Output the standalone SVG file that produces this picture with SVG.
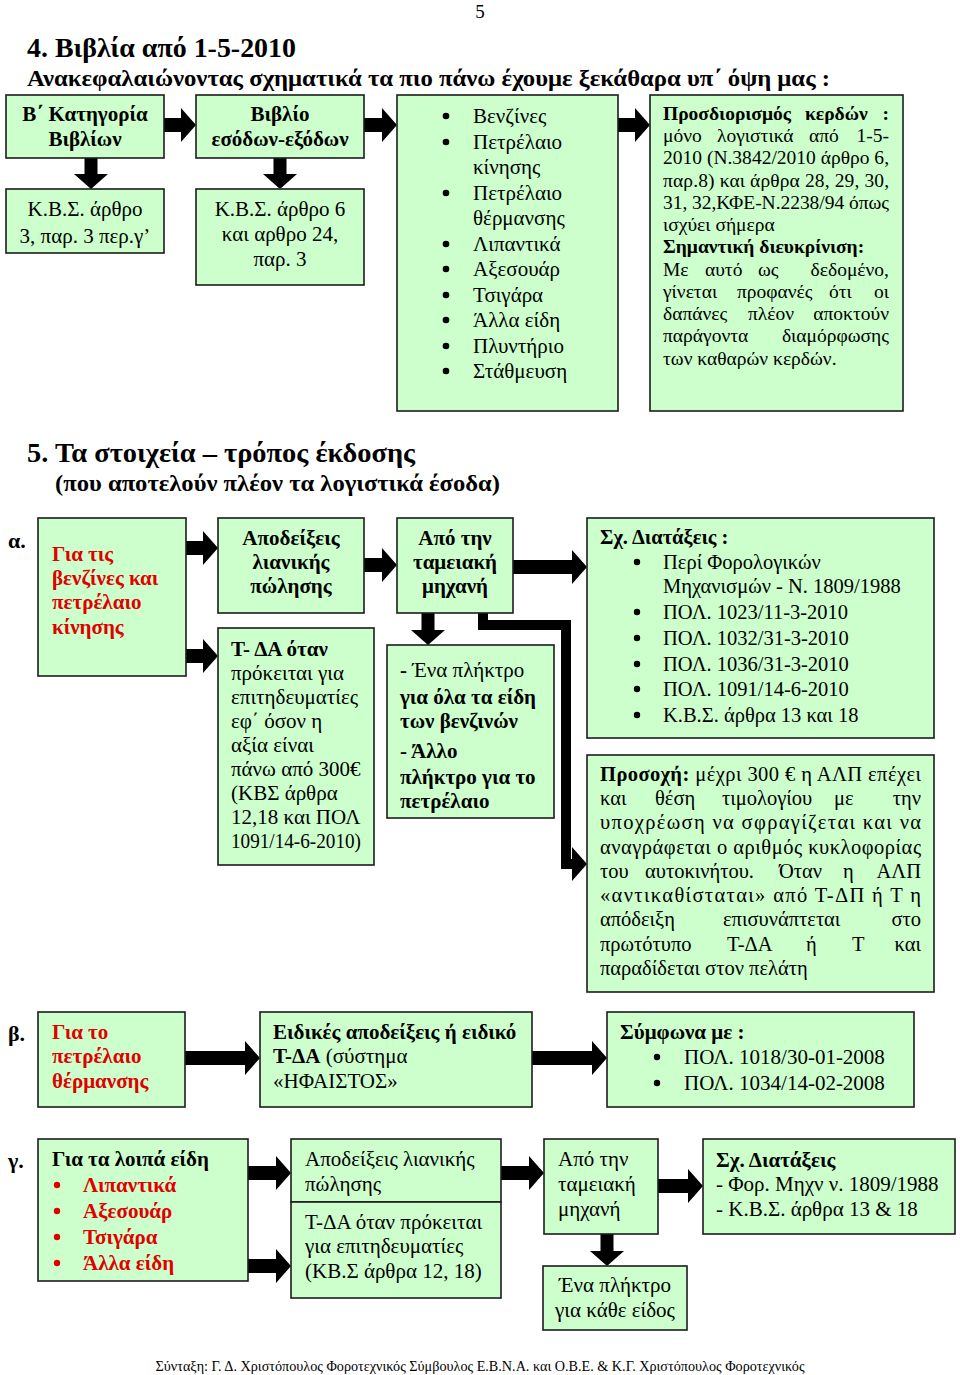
<svg xmlns="http://www.w3.org/2000/svg" width="960" height="1375" viewBox="0 0 960 1375">
<style>
.box{fill:#ccffcc;stroke:#1c1c1c;stroke-width:1.6}
text{font-family:"Liberation Serif","Times New Roman",serif;font-size:21px;fill:#000}
.b{font-weight:bold}
.r{fill:#e00000}
.c{text-anchor:middle}
.e{text-anchor:end}
.s19{font-size:19.5px}
.s20{font-size:20.5px}
.s22{font-size:22px}
.arr{fill:#000}
.ln{fill:none;stroke:#000;stroke-width:10;stroke-linejoin:miter}
</style>
<rect width="960" height="1375" fill="#fff"/>
<text x="480" y="18" class="c" style="font-size:19px">5</text>
<text x="27" y="57" class="b" style="font-size:28px" textLength="269" lengthAdjust="spacingAndGlyphs">4. Βιβλία από 1-5-2010</text>
<text x="27" y="86" class="b" style="font-size:23.5px" textLength="803" lengthAdjust="spacingAndGlyphs">Ανακεφαλαιώνοντας σχηματικά τα πιο πάνω έχουμε ξεκάθαρα υπ΄ όψη μας :</text>

<g id="connectors">
<polygon class="arr" points="164,118 181,118 181,108 196,125 181,142 181,132 164,132"/>
<polygon class="arr" points="364,118 382,118 382,108 397,125 382,142 382,132 364,132"/>
<polygon class="arr" points="618,118 635,118 635,108 650,125 635,142 635,132 618,132"/>
<polygon class="arr" points="84.5,158 97.5,158 97.5,174 108,174 91,189 74,174 84.5,174"/>
<polygon class="arr" points="273.5,158 286.5,158 286.5,174 297,174 280,189 263,174 273.5,174"/>
<polygon class="arr" points="186,541 203,541 203,531 218,548 203,565 203,555 186,555"/>
<polygon class="arr" points="186,649 203,649 203,639 218,656 203,673 203,663 186,663"/>
<polygon class="arr" points="364,558 382,558 382,548 397,565 382,582 382,572 364,572"/>
<polygon class="arr" points="513,560 572,560 572,550 587,567 572,584 572,574 513,574"/>
<polygon class="arr" points="421.5,613 434.5,613 434.5,630 445,630 428,645 411,630 421.5,630"/>
<path class="ln" d="M483 613 V625 H566 V864 H574"/>
<polygon class="arr" points="572,847 587,864 572,881"/>
<polygon class="arr" points="185,1051 245,1051 245,1041 260,1058 245,1075 245,1065 185,1065"/>
<polygon class="arr" points="532,1051 592,1051 592,1041 607,1058 592,1075 592,1065 532,1065"/>
<polygon class="arr" points="248,1166 276,1166 276,1156 291,1173 276,1190 276,1180 248,1180"/>
<polygon class="arr" points="248,1259 276,1259 276,1249 291,1266 276,1283 276,1273 248,1273"/>
<polygon class="arr" points="501,1166 529,1166 529,1156 544,1173 529,1190 529,1180 501,1180"/>
<polygon class="arr" points="658,1179 688,1179 688,1169 703,1186 688,1203 688,1193 658,1193"/>
<polygon class="arr" points="600.5,1234 613.5,1234 613.5,1251 624,1251 607,1266 590,1251 600.5,1251"/>
</g>

<g id="a1">
<rect class="box" x="6" y="95" width="158" height="63"/>
<text x="85" y="121" class="b c">Β΄ Κατηγορία</text>
<text x="85" y="146" class="b c">Βιβλίων</text>
</g>
<g id="a1b">
<rect class="box" x="6" y="189" width="158" height="64"/>
<text x="85" y="216" class="c">Κ.Β.Σ. άρθρο</text>
<text x="85" y="243" class="c">3, παρ. 3 περ.γ’</text>
</g>
<g id="a2">
<rect class="box" x="196" y="95" width="168" height="63"/>
<text x="280" y="121" class="b c">Βιβλίο</text>
<text x="280" y="146" class="b c">εσόδων-εξόδων</text>
</g>
<g id="a2b">
<rect class="box" x="196" y="189" width="168" height="96"/>
<text x="280" y="216" class="c">Κ.Β.Σ. άρθρο 6</text>
<text x="280" y="241" class="c">και αρθρο 24,</text>
<text x="280" y="266" class="c">παρ. 3</text>
</g>
<g id="a3">
<rect class="box" x="397" y="95" width="221" height="316"/>
<g fill="#000">
<circle cx="446" cy="116" r="3.3"/><circle cx="446" cy="142" r="3.3"/><circle cx="446" cy="193" r="3.3"/>
<circle cx="446" cy="244" r="3.3"/><circle cx="446" cy="269" r="3.3"/><circle cx="446" cy="295" r="3.3"/>
<circle cx="446" cy="320" r="3.3"/><circle cx="446" cy="346" r="3.3"/><circle cx="446" cy="371" r="3.3"/>
</g>
<text x="473" y="123">Βενζίνες</text>
<text x="473" y="149">Πετρέλαιο</text>
<text x="473" y="174">κίνησης</text>
<text x="473" y="200">Πετρέλαιο</text>
<text x="473" y="225">θέρμανσης</text>
<text x="473" y="251">Λιπαντικά</text>
<text x="473" y="276">Αξεσουάρ</text>
<text x="473" y="302">Τσιγάρα</text>
<text x="473" y="327">Άλλα είδη</text>
<text x="473" y="353">Πλυντήριο</text>
<text x="473" y="378">Στάθμευση</text>
</g>
<g id="a4">
<rect class="box" x="650" y="95" width="253" height="316"/>
<text class="b s19" y="120"><tspan x="663">Προσδιορισμός</tspan><tspan x="805">κερδών</tspan><tspan x="889" class="e">:</tspan></text>
<text class="s19" y="142"><tspan x="663">μόνο</tspan><tspan x="717">λογιστικά</tspan><tspan x="809">από</tspan><tspan x="889" class="e">1-5-</tspan></text>
<text class="s19" x="663" y="164" textLength="226" lengthAdjust="spacing">2010 (Ν.3842/2010 άρθρο 6,</text>
<text class="s19" x="663" y="187" textLength="226" lengthAdjust="spacing">παρ.8) και άρθρα 28, 29, 30,</text>
<text class="s19" x="663" y="209" textLength="226" lengthAdjust="spacing">31, 32,ΚΦΕ-Ν.2238/94 όπως</text>
<text class="s19" x="663" y="231">ισχύει σήμερα</text>
<text class="b s19" x="663" y="253">Σημαντική διευκρίνιση:</text>
<text class="s19" y="276"><tspan x="663">Με</tspan><tspan x="705">αυτό</tspan><tspan x="758">ως</tspan><tspan x="889" class="e">δεδομένο,</tspan></text>
<text class="s19" y="298"><tspan x="663">γίνεται</tspan><tspan x="737">προφανές</tspan><tspan x="829">ότι</tspan><tspan x="889" class="e">οι</tspan></text>
<text class="s19" y="320"><tspan x="663">δαπάνες</tspan><tspan x="748">πλέον</tspan><tspan x="889" class="e">αποκτούν</tspan></text>
<text class="s19" y="342"><tspan x="663">παράγοντα</tspan><tspan x="889" class="e">διαμόρφωσης</tspan></text>
<text class="s19" x="663" y="365">των καθαρών κερδών.</text>
</g>

<text x="27" y="462" class="b" style="font-size:28px" textLength="388" lengthAdjust="spacingAndGlyphs">5. Τα στοιχεία – τρόπος έκδοσης</text>
<text x="55" y="491" class="b" style="font-size:24px" textLength="445" lengthAdjust="spacingAndGlyphs">(που αποτελούν πλέον τα λογιστικά έσοδα)</text>
<text x="8" y="548" class="b s22">α.</text>

<g id="b1">
<rect class="box" x="38" y="518" width="148" height="158"/>
<text x="52" y="561" class="b r">Για τις</text>
<text x="52" y="585" class="b r">βενζίνες και</text>
<text x="52" y="609" class="b r">πετρέλαιο</text>
<text x="52" y="634" class="b r">κίνησης</text>
</g>
<g id="b2">
<rect class="box" x="218" y="518" width="146" height="95"/>
<text x="291" y="545" class="b c">Αποδείξεις</text>
<text x="291" y="569" class="b c">λιανικής</text>
<text x="291" y="593" class="b c">πώλησης</text>
</g>
<g id="b3">
<rect class="box" x="218" y="628" width="156" height="237"/>
<text x="231" y="656" class="b">Τ- ΔΑ όταν</text>
<text x="231" y="680">πρόκειται για</text>
<text x="231" y="704">επιτηδευματίες</text>
<text x="231" y="728">εφ΄ όσον η</text>
<text x="231" y="752">αξία είναι</text>
<text x="231" y="776">πάνω από 300€</text>
<text x="231" y="800">(ΚΒΣ άρθρα</text>
<text x="231" y="824">12,18 και ΠΟΛ</text>
<text x="231" y="848" textLength="130" lengthAdjust="spacingAndGlyphs">1091/14-6-2010)</text>
</g>
<g id="b4">
<rect class="box" x="397" y="518" width="116" height="95"/>
<text x="455" y="545" class="b c">Από την</text>
<text x="455" y="569" class="b c">ταμειακή</text>
<text x="455" y="593" class="b c">μηχανή</text>
</g>
<g id="b5">
<rect class="box" x="387" y="645" width="167" height="173"/>
<text x="400" y="677"><tspan class="b">-</tspan> Ένα πλήκτρο</text>
<text x="400" y="704" class="b">για όλα τα είδη</text>
<text x="400" y="728" class="b">των βενζινών</text>
<text x="400" y="758" class="b">- Άλλο</text>
<text x="400" y="784" class="b">πλήκτρο για το</text>
<text x="400" y="808" class="b">πετρέλαιο</text>
</g>
<g id="b6">
<rect class="box" x="587" y="518" width="347" height="220"/>
<text x="600" y="544" class="b s20">Σχ. Διατάξεις :</text>
<g fill="#000">
<circle cx="637" cy="562" r="3.2"/><circle cx="637" cy="612" r="3.2"/><circle cx="637" cy="638" r="3.2"/>
<circle cx="637" cy="664" r="3.2"/><circle cx="637" cy="689" r="3.2"/><circle cx="637" cy="715" r="3.2"/>
</g>
<text x="663" y="569" class="s20">Περί Φορολογικών</text>
<text x="663" y="593" class="s20">Μηχανισμών - Ν. 1809/1988</text>
<text x="663" y="619" class="s20">ΠΟΛ. 1023/11-3-2010</text>
<text x="663" y="645" class="s20">ΠΟΛ. 1032/31-3-2010</text>
<text x="663" y="671" class="s20">ΠΟΛ. 1036/31-3-2010</text>
<text x="663" y="696" class="s20">ΠΟΛ. 1091/14-6-2010</text>
<text x="663" y="722" class="s20">Κ.Β.Σ. άρθρα 13 και 18</text>
</g>
<g id="b7">
<rect class="box" x="587" y="755" width="347" height="237"/>
<text x="600" y="781" class="s20" textLength="321" lengthAdjust="spacing"><tspan class="b">Προσοχή:</tspan> μέχρι 300 € η ΑΛΠ επέχει</text>
<text y="805" class="s20"><tspan x="600">και</tspan><tspan x="655">θέση</tspan><tspan x="722">τιμολογίου</tspan><tspan x="834">με</tspan><tspan x="921" class="e">την</tspan></text>
<text x="600" y="829" class="s20" textLength="321" lengthAdjust="spacing">υποχρέωση να σφραγίζεται και να</text>
<text x="600" y="854" class="s20" textLength="321" lengthAdjust="spacing">αναγράφεται ο αριθμός κυκλοφορίας</text>
<text y="878" class="s20"><tspan x="600">του</tspan><tspan x="645">αυτοκινήτου.</tspan><tspan x="779">Όταν</tspan><tspan x="843">η</tspan><tspan x="921" class="e">ΑΛΠ</tspan></text>
<text x="600" y="902" class="s20" textLength="321" lengthAdjust="spacing">«αντικαθίσταται» από Τ-ΔΠ ή Τ η</text>
<text y="926" class="s20"><tspan x="600">απόδειξη</tspan><tspan x="723">επισυνάπτεται</tspan><tspan x="921" class="e">στο</tspan></text>
<text y="951" class="s20"><tspan x="600">πρωτότυπο</tspan><tspan x="727">Τ-ΔΑ</tspan><tspan x="806">ή</tspan><tspan x="852">Τ</tspan><tspan x="921" class="e">και</tspan></text>
<text x="600" y="975" class="s20">παραδίδεται στον πελάτη</text>
</g>

<text x="8" y="1041" class="b s22">β.</text>
<g id="c1">
<rect class="box" x="38" y="1012" width="147" height="95"/>
<text x="52" y="1039" class="b r">Για το</text>
<text x="52" y="1063" class="b r">πετρέλαιο</text>
<text x="52" y="1088" class="b r">θέρμανσης</text>
</g>
<g id="c2">
<rect class="box" x="260" y="1012" width="272" height="95"/>
<text x="273" y="1039" class="b">Ειδικές αποδείξεις ή ειδικό</text>
<text x="273" y="1063"><tspan class="b">Τ-ΔΑ</tspan> (σύστημα</text>
<text x="273" y="1088">«ΗΦΑΙΣΤΟΣ»</text>
</g>
<g id="c3">
<rect class="box" x="607" y="1012" width="307" height="95"/>
<text x="620" y="1039" class="b">Σύμφωνα με :</text>
<circle cx="657" cy="1057" r="3.2"/><circle cx="657" cy="1083" r="3.2"/>
<text x="684" y="1064">ΠΟΛ. 1018/30-01-2008</text>
<text x="684" y="1090">ΠΟΛ. 1034/14-02-2008</text>
</g>

<text x="8" y="1168" class="b s22">γ.</text>
<g id="d1">
<rect class="box" x="38" y="1139" width="210" height="142"/>
<text x="52" y="1166" class="b">Για τα λοιπά είδη</text>
<g fill="#e00000">
<circle cx="57" cy="1185" r="3.2"/><circle cx="57" cy="1211" r="3.2"/><circle cx="57" cy="1237" r="3.2"/><circle cx="57" cy="1263" r="3.2"/>
</g>
<text x="83" y="1192" class="b r">Λιπαντικά</text>
<text x="83" y="1218" class="b r">Αξεσουάρ</text>
<text x="83" y="1244" class="b r">Τσιγάρα</text>
<text x="83" y="1270" class="b r">Άλλα είδη</text>
</g>
<g id="d2a">
<rect class="box" x="291" y="1139" width="210" height="63"/>
<text x="305" y="1166">Αποδείξεις λιανικής</text>
<text x="305" y="1191">πώλησης</text>
</g>
<g id="d2b">
<rect class="box" x="291" y="1202" width="210" height="96"/>
<text x="305" y="1229">Τ-ΔΑ όταν πρόκειται</text>
<text x="305" y="1253">για επιτηδευματίες</text>
<text x="305" y="1278">(ΚΒ.Σ άρθρα 12, 18)</text>
</g>
<g id="d3">
<rect class="box" x="544" y="1139" width="114" height="95"/>
<text x="558" y="1166">Από την</text>
<text x="558" y="1191">ταμειακή</text>
<text x="558" y="1216">μηχανή</text>
</g>
<g id="d4">
<rect class="box" x="703" y="1139" width="252" height="95"/>
<text x="716" y="1167" class="b">Σχ. Διατάξεις</text>
<text x="716" y="1191">- Φορ. Μηχν ν. 1809/1988</text>
<text x="716" y="1216">- Κ.Β.Σ. άρθρα 13 &amp; 18</text>
</g>
<g id="d5">
<rect class="box" x="543" y="1266" width="144" height="64"/>
<text x="615" y="1292" class="c">Ένα πλήκτρο</text>
<text x="615" y="1317" class="c">για κάθε είδος</text>
</g>

<text x="480" y="1371" class="c" style="font-size:14px" textLength="649" lengthAdjust="spacingAndGlyphs">Σύνταξη: Γ. Δ. Χριστόπουλος Φοροτεχνικός Σύμβουλος Ε.Β.Ν.Α. και Ο.Β.Ε. &amp; Κ.Γ. Χριστόπουλος Φοροτεχνικός</text>
</svg>
